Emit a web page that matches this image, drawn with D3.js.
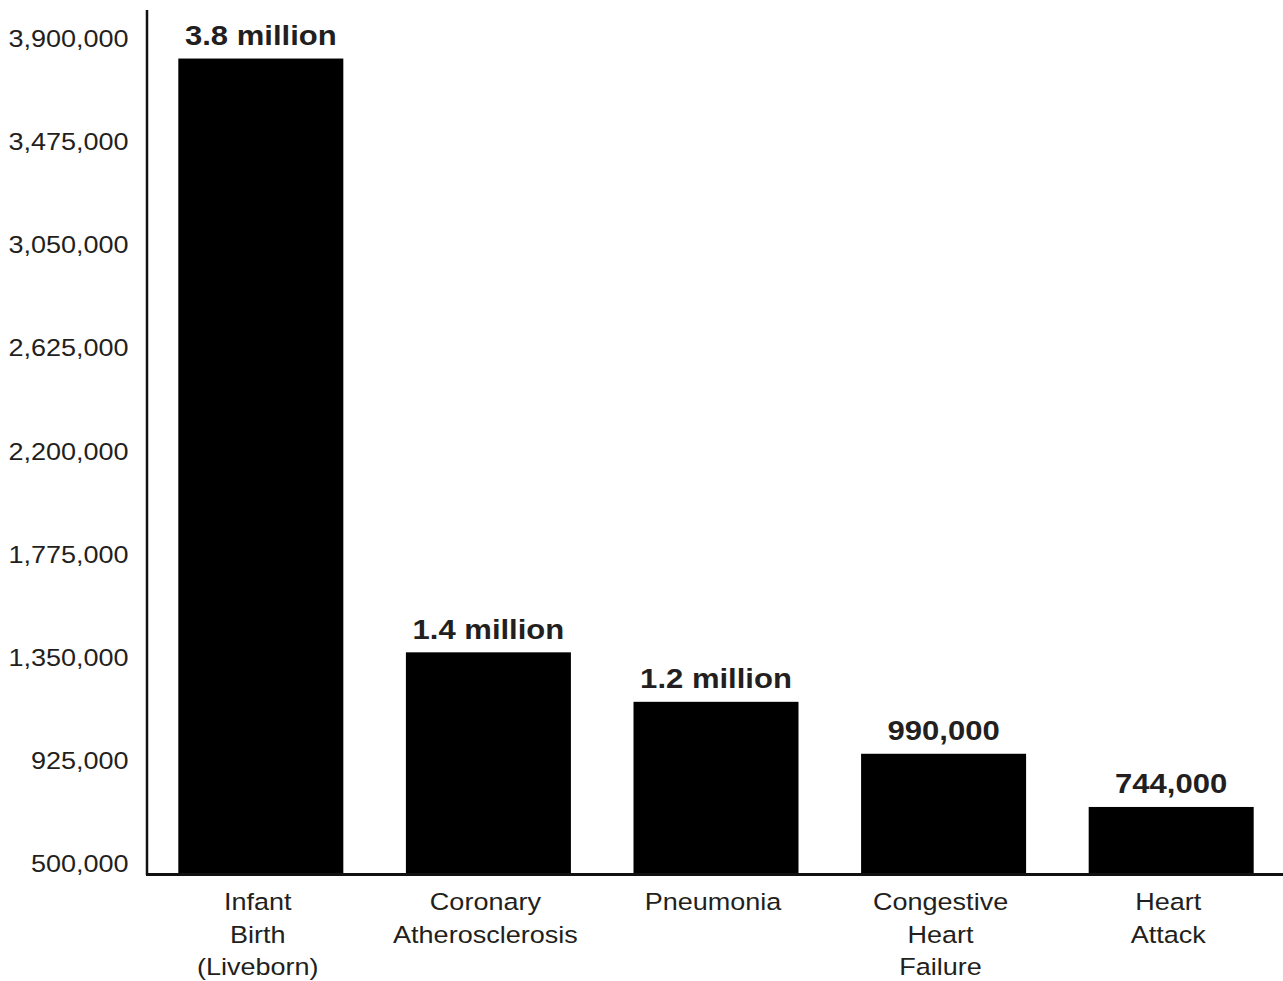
<!DOCTYPE html>
<html>
<head>
<meta charset="utf-8">
<script src="https://cdn.jsdelivr.net/npm/d3@7"></script>
<style>
  body { margin: 0; background: #fff; }
  svg { display: block; }
</style>
</head>
<body>
<script>
const categories = [
  ['Infant', 'Birth', '(Liveborn)'],
  ['Coronary', 'Atherosclerosis'],
  ['Pneumonia'],
  ['Congestive', 'Heart', 'Failure'],
  ['Heart', 'Attack']
]
const values = [3800000, 1400000, 1200000, 990000, 775000]
const valueLabels = ['3.8 million', '1.4 million', '1.2 million', '990,000', '744,000']
const yTicks = [500000, 925000, 1350000, 1775000, 2200000, 2625000, 3050000, 3475000, 3900000]

const d3 = window.d3

// the reference is stretched sideways, so draw in a narrower box and let the viewBox widen it
const stretch = 1.15
const width = 1283
const height = 981
const vbWidth = width / stretch
const px = (x) => x / stretch

const axisX = px(147)
const baseY = 875
const font = "'Liberation Sans', Arial, Helvetica, sans-serif"
const ink = '#231f20'

const keys = categories.map((c) => c.join(' '))

const xScale = d3.scaleBand()
  .domain(keys)
  .range([px(147), px(1285)])
  .paddingInner(0.275)
  .paddingOuter(0.1376)

const yScale = d3.scaleLinear()
  .domain([500000, 3900000])
  .range([baseY, 33.8])

// tick labels sit on a slightly tighter spacing than the bars
const tickScale = yScale.copy().range([864, 39])

const svg = d3.select('body')
  .append('svg')
  .attr('width', width)
  .attr('height', height)
  .attr('viewBox', `0 0 ${vbWidth} ${height}`)
  .attr('preserveAspectRatio', 'none')

const yAxis = svg.append('g')
  .attr('class', 'y axis')
  .attr('transform', `translate(${axisX},0)`)
  .call(d3.axisLeft(tickScale)
    .tickValues(yTicks)
    .tickSize(0)
    .tickPadding(16)
    .tickFormat(d3.format(',')))

yAxis.select('.domain').remove()
yAxis.selectAll('text')
  .style('font-family', font)
  .style('font-size', '23.5px')
  .attr('fill', ink)

const data = keys.map((k, i) => ({ key: k, lines: categories[i], value: values[i], label: valueLabels[i] }))

svg.selectAll('.bar')
  .data(data)
  .enter()
  .append('rect')
  .attr('class', 'bar')
  .attr('x', (d) => xScale(d.key))
  .attr('y', (d) => yScale(d.value))
  .attr('width', xScale.bandwidth())
  .attr('height', (d) => baseY - yScale(d.value))
  .attr('fill', '#000')

svg.selectAll('.value-label')
  .data(data)
  .enter()
  .append('text')
  .attr('class', 'value-label')
  .attr('x', (d) => xScale(d.key) + xScale.bandwidth() / 2)
  .attr('y', (d) => yScale(d.value) - 13.5)
  .attr('text-anchor', 'middle')
  .style('font-family', font)
  .style('font-size', '27px')
  .style('font-weight', 'bold')
  .attr('fill', ink)
  .text((d) => d.label)

const catLabels = svg.selectAll('.cat-label')
  .data(data)
  .enter()
  .append('text')
  .attr('class', 'cat-label')
  .attr('text-anchor', 'middle')
  .style('font-family', font)
  .style('font-size', '23.5px')
  .attr('fill', ink)

catLabels.selectAll('tspan')
  .data((d) => d.lines.map((line) => ({ line, x: xScale(d.key) + xScale.bandwidth() / 2 - px(3) })))
  .enter()
  .append('tspan')
  .attr('x', (t) => t.x)
  .attr('y', (t, i) => 910 + i * 32.7)
  .text((t) => t.line)

// axis lines
svg.append('line')
  .attr('x1', axisX)
  .attr('x2', axisX)
  .attr('y1', 10)
  .attr('y2', baseY)
  .attr('stroke', '#111')
  .attr('stroke-width', 2.5 / stretch)

svg.append('line')
  .attr('x1', px(146))
  .attr('x2', vbWidth)
  .attr('y1', baseY - 0.5)
  .attr('y2', baseY - 0.5)
  .attr('stroke', '#111')
  .attr('stroke-width', 3)
</script>
</body>
</html>
